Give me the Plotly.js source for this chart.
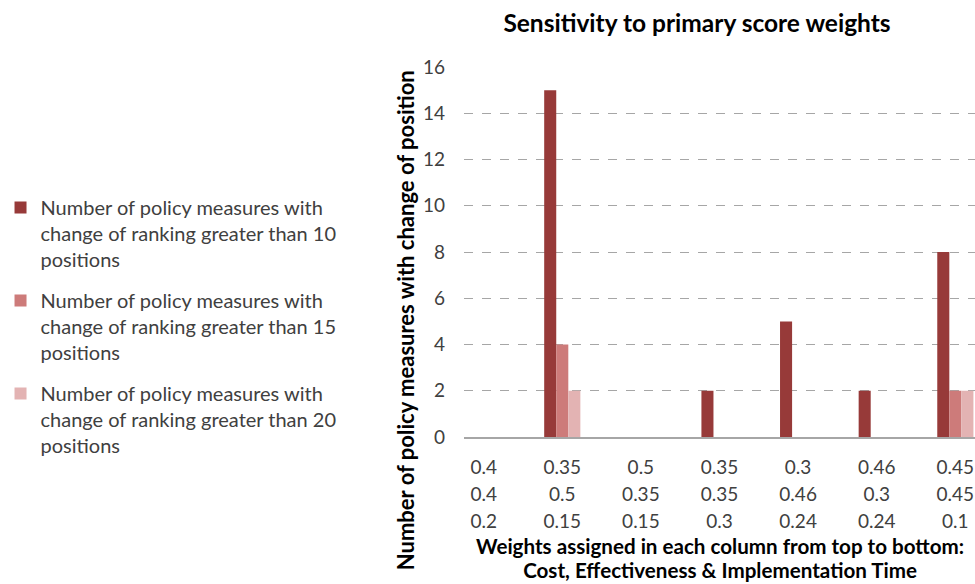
<!DOCTYPE html>
<html>
<head>
<meta charset="utf-8">
<script src="https://cdn.plot.ly/plotly-3.0.1.min.js"></script>
<style>html,body{margin:0;padding:0;background:#fff;}#chart{width:975px;height:584px;}</style>
</head>
<body>
<div id="chart"></div>
<script>
// Weights: Cost, Effectiveness, Implementation Time per column
const costW = ['0.4', '0.35', '0.5', '0.35', '0.3', '0.46', '0.45'];
const effW  = ['0.4', '0.5', '0.35', '0.35', '0.46', '0.3', '0.45'];
const timeW = ['0.2', '0.15', '0.15', '0.3', '0.24', '0.24', '0.1'];
const categories = [0, 1, 2, 3, 4, 5, 6];

const seriesNames = [
  'Number of policy measures with<br>change of ranking greater than 10<br>positions',
  'Number of policy measures with<br>change of ranking greater than 15<br>positions',
  'Number of policy measures with<br>change of ranking greater than 20<br>positions'
];
const over10 = [0, 15, 0, 2, 5, 2, 8];
const over15 = [0, 4, 0, 0, 0, 0, 2];
const over20 = [0, 2, 0, 0, 0, 0, 2];
const colors = ['#973A39', '#CD7B7A', '#E3B3B3'];

const sp = s => '<span style="font-size:19px">' + s + '</span>';
const tickText = categories.map(i => sp(costW[i]) + '<br>' + sp(effW[i]) + '<br>' + sp(timeW[i]));

const FONT = 'Lato, "Open Sans", sans-serif';
const traces = [over10, over15, over20].map((vals, k) => ({
  type: 'bar',
  x: categories,
  y: vals,
  name: seriesNames[k],
  legendgroup: 'g' + k,
  marker: {color: colors[k], line: {width: 0}},
  hoverinfo: 'x+y'
}));

const xt = s => '<span style="font-size:20.6px"><b>' + s + '</b></span>';

const layout = {
  width: 975, height: 584,
  margin: {l: 462, r: 0, t: 67, b: 147},
  paper_bgcolor: '#ffffff', plot_bgcolor: '#ffffff',
  font: {family: FONT, color: '#404040', size: 19},
  barmode: 'group', bargap: 0.54, bargroupgap: 0,
  showlegend: true,
  legend: {
    x: -0.907, xanchor: 'left', y: 0.673, yanchor: 'top',
    traceorder: 'grouped', tracegroupgap: 12, valign: 'top',
    font: {family: FONT, size: 20, color: '#404040'},
    bgcolor: 'rgba(0,0,0,0)'
  },
  title: {
    text: '<b>Sensitivity to primary score weights</b>',
    font: {family: FONT, size: 24.5, color: '#000000'},
    x: 697 / 975, xref: 'container', xanchor: 'center',
    y: 1 - 23 / 584, yref: 'container', yanchor: 'middle'
  },
  xaxis: {
    type: 'linear',
    range: [-0.25, 6.25],
    tickmode: 'array', tickvals: categories, ticktext: tickText,
    showgrid: false, zeroline: false,
    showline: true, linecolor: '#A6A6A6', linewidth: 1.5,
    ticks: '', ticklen: 0, ticklabelstandoff: 10,
    tickfont: {family: FONT, size: 21, color: '#404040'},
    fixedrange: true
  },
  yaxis: {
    range: [0, 16], dtick: 2, tick0: 0,
    showgrid: true, gridcolor: '#A6A6A6', griddash: 'dash', gridwidth: 1,
    zeroline: false, showline: false, ticks: '',
    ticklabelstandoff: 18,
    tickfont: {family: FONT, size: 19, color: '#404040'},
    fixedrange: true
  },
  annotations: [
    {
      text: '<b>Number of policy measures with change of position</b>',
      xref: 'paper', yref: 'paper',
      x: (403 - 462) / 513, y: (437 - 320) / 370,
      xanchor: 'center', yanchor: 'middle', textangle: -90, showarrow: false,
      font: {family: FONT, size: 22, color: '#000000'}
    },
    {
      text: xt('Weights assigned in each column from top to bottom:') + '<br>' + xt('Cost, Effectiveness &amp; Implementation Time'),
      xref: 'paper', yref: 'paper',
      x: (719 - 462) / 513, y: (437 - 558) / 370,
      xanchor: 'center', yanchor: 'middle', showarrow: false,
      font: {family: FONT, size: 18.5, color: '#000000'}
    }
  ]
};

Plotly.newPlot('chart', traces, layout, {displayModeBar: false, staticPlot: true});
</script>
</body>
</html>
